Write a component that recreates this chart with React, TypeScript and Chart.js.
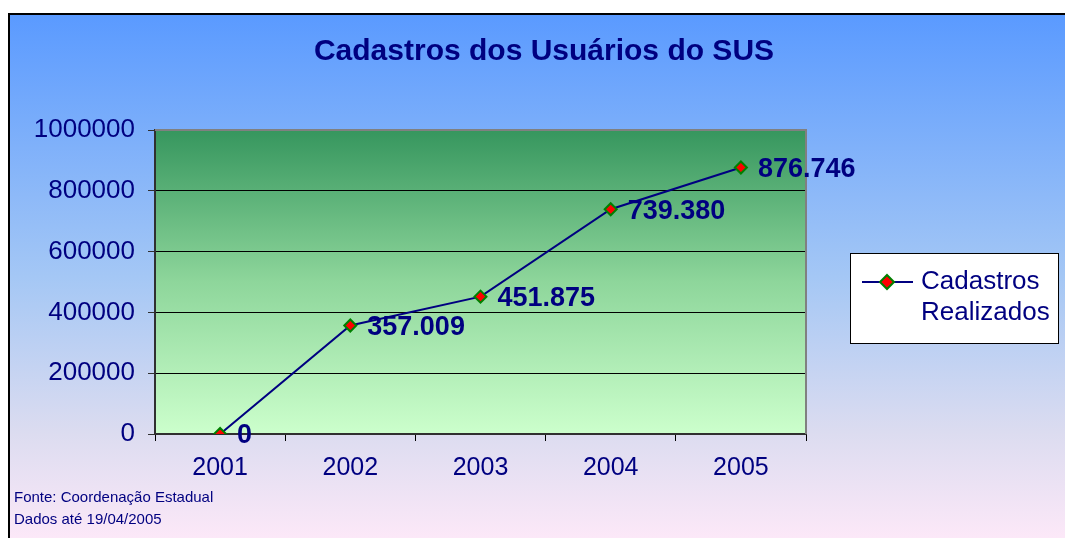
import React, { useEffect, useRef } from "react";
import { Chart, registerables } from "chart.js";

Chart.register(...registerables);

const title = "Cadastros dos Usuários do SUS";
const categories = ["2001", "2002", "2003", "2004", "2005"];
const seriesName = ["Cadastros", "Realizados"];
const values = [0, 357009, 451875, 739380, 876746];
const yTicks = [0, 200000, 400000, 600000, 800000, 1000000];
const footer = ["Fonte: Coordenação Estadual", "Dados até 19/04/2005"];

const NAVY = "#000080";
const FONT = "Arial, 'Liberation Sans', sans-serif";

function fmt(v: number): string {
  return String(v).replace(/\B(?=(\d{3})+(?!\d))/g, ".");
}

const decorPlugin = {
  id: "decor",
  beforeDraw(chart: any) {
    const { ctx, width, height, chartArea } = chart;
    ctx.save();
    ctx.fillStyle = "#ffffff";
    ctx.fillRect(0, 0, width, height);
    const g = ctx.createLinearGradient(0, 14, 0, height);
    g.addColorStop(0, "#5a9aff");
    g.addColorStop(0.5, "#a4c7f5");
    g.addColorStop(0.8, "#dcdcf0");
    g.addColorStop(1, "#fce8f8");
    ctx.fillStyle = g;
    ctx.fillRect(9, 14, width - 9, height - 14);
    ctx.strokeStyle = "#000000";
    ctx.lineWidth = 2;
    ctx.beginPath();
    ctx.moveTo(9, height);
    ctx.lineTo(9, 14);
    ctx.lineTo(width, 14);
    ctx.stroke();
    const pg = ctx.createLinearGradient(0, chartArea.top, 0, chartArea.bottom);
    pg.addColorStop(0, "#36965e");
    pg.addColorStop(0.5, "#8ed69b");
    pg.addColorStop(1, "#ccffcc");
    ctx.fillStyle = pg;
    ctx.fillRect(chartArea.left, chartArea.top, chartArea.right - chartArea.left, chartArea.bottom - chartArea.top);
    ctx.restore();
  },
  beforeDatasetsDraw(chart: any) {
    const { ctx, chartArea } = chart;
    ctx.save();
    ctx.strokeStyle = "#808080";
    ctx.lineWidth = 2;
    ctx.beginPath();
    ctx.moveTo(chartArea.left, chartArea.top);
    ctx.lineTo(chartArea.right, chartArea.top);
    ctx.lineTo(chartArea.right, chartArea.bottom);
    ctx.stroke();
    ctx.restore();
  },
  afterDraw(chart: any) {
    const { ctx } = chart;
    ctx.save();
    // title
    ctx.fillStyle = NAVY;
    ctx.font = `bold 30px ${FONT}`;
    ctx.textAlign = "center";
    ctx.textBaseline = "middle";
    ctx.fillText(title, 544, 52);
    // data labels
    const meta = chart.getDatasetMeta(0);
    ctx.font = `bold 27px ${FONT}`;
    ctx.textAlign = "left";
    meta.data.forEach((pt: any, i: number) => {
      ctx.fillText(fmt(values[i]), pt.x + 17, pt.y + 2);
    });
    // legend
    const lx = 850, ly = 253, lw = 208, lh = 90;
    ctx.fillStyle = "#ffffff";
    ctx.fillRect(lx, ly, lw, lh);
    ctx.strokeStyle = "#000000";
    ctx.lineWidth = 1;
    ctx.strokeRect(lx + 0.5, ly + 0.5, lw, lh);
    ctx.strokeStyle = NAVY;
    ctx.lineWidth = 2;
    ctx.beginPath();
    ctx.moveTo(862, 282);
    ctx.lineTo(913, 282);
    ctx.stroke();
    ctx.fillStyle = "#ff0000";
    ctx.strokeStyle = "#008000";
    ctx.beginPath();
    ctx.moveTo(887, 275);
    ctx.lineTo(894, 282);
    ctx.lineTo(887, 289);
    ctx.lineTo(880, 282);
    ctx.closePath();
    ctx.fill();
    ctx.stroke();
    ctx.fillStyle = NAVY;
    ctx.font = `26px ${FONT}`;
    ctx.textBaseline = "middle";
    ctx.fillText(seriesName[0], 921, 282);
    ctx.fillText(seriesName[1], 921, 313);
    // footer
    ctx.font = `15px ${FONT}`;
    ctx.fillText(footer[0], 14, 498);
    ctx.fillText(footer[1], 14, 520);
    ctx.restore();
  },
};

export default function App() {
  const ref = useRef<HTMLCanvasElement>(null);
  useEffect(() => {
    if (!ref.current) return;
    const chart = new Chart(ref.current, {
      type: "line",
      data: {
        labels: categories,
        datasets: [
          {
            label: seriesName.join(" "),
            data: values,
            borderColor: NAVY,
            borderWidth: 2,
            tension: 0,
            fill: false,
            pointStyle: "rectRot",
            pointRadius: 6,
            pointBackgroundColor: "#ff0000",
            pointBorderColor: "#008000",
            pointBorderWidth: 2,
          },
        ],
      },
      options: {
        animation: false,
        responsive: false,
        maintainAspectRatio: false,
        layout: { padding: { left: 0, top: 130, right: 259, bottom: 54 } },
        plugins: {
          legend: { display: false },
          title: { display: false },
          tooltip: { enabled: false },
        },
        scales: {
          x: {
            type: "category",
            offset: true,
            grid: {
              offset: true,
              drawOnChartArea: false,
              drawTicks: true,
              tickLength: 7,
              tickColor: "#000000",
              lineWidth: 1,
            },
            border: { display: true, color: "#303030", width: 2 },
            ticks: {
              color: NAVY,
              font: { family: FONT, size: 25 },
              padding: 12,
              maxRotation: 0,
            },
            afterFit(scale: any) {
              scale.height = 50;
            },
          },
          y: {
            min: 0,
            max: 1000000,
            afterBuildTicks(scale: any) {
              scale.ticks = yTicks.map((v) => ({ value: v }));
            },
            grid: {
              color: "#000000",
              lineWidth: 1,
              drawTicks: true,
              tickLength: 7,
              tickColor: "#303030",
            },
            border: { display: true, color: "#303030", width: 2 },
            ticks: {
              color: NAVY,
              font: { family: FONT, size: 26 },
              padding: 13,
              callback: (v: any) => String(v),
            },
            afterFit(scale: any) {
              scale.width = 155;
            },
          },
        },
      },
      plugins: [decorPlugin],
    });
    return () => chart.destroy();
  }, []);
  return (
    <div style={{ position: "fixed", left: 0, top: 0, width: 1065, height: 538 }}>
      <canvas ref={ref} width={1065} height={538} style={{ width: 1065, height: 538, display: "block" }} />
    </div>
  );
}
